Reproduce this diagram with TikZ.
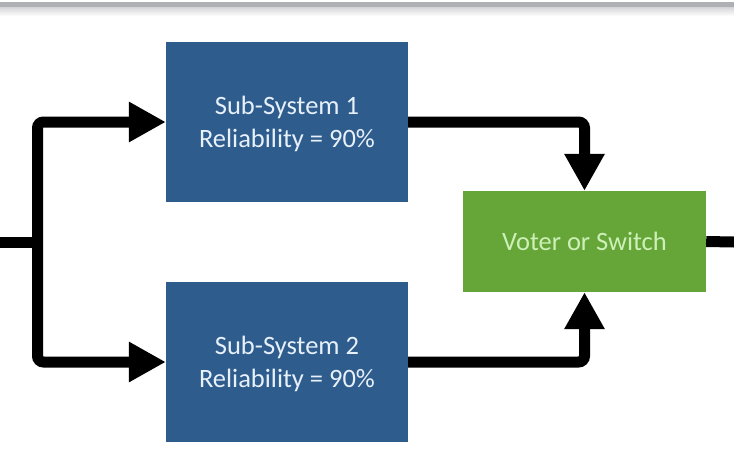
\documentclass[tikz,border=0pt]{standalone}
\usepackage{fontspec}
\setmainfont{Carlito}
\usetikzlibrary{arrows.meta}
\definecolor{boxblue}{RGB}{46,93,141}
\definecolor{boxgreen}{RGB}{102,165,56}
\definecolor{txtblue}{RGB}{232,240,250}
\definecolor{txtgreen}{RGB}{205,240,185}
\definecolor{topgray}{RGB}{175,176,180}
\tikzset{
  subsys/.style={rectangle, fill=boxblue, minimum width=242pt, minimum height=160pt,
    inner sep=0pt},
  subtext/.style={text=txtblue, align=center, inner sep=0pt,
    font=\fontsize{26.5}{33}\selectfont},
  voter/.style={rectangle, fill=boxgreen, minimum width=243pt, minimum height=101pt,
    inner sep=0pt, text=txtgreen, font=\fontsize{26.5}{33}\selectfont},
  wire/.style={line width=11pt, black, rounded corners=6pt},
  arrowwire/.style={wire, -{Triangle[length=37pt,width=38pt]}}
}
\begin{document}
\begin{tikzpicture}[x=1pt,y=-1pt]
\useasboundingbox (0,0) rectangle (734,456);
\fill[white] (0,0) rectangle (734,456);
\shade[top color=topgray!60, bottom color=white] (0,6) rectangle (734,16);
\fill[topgray] (0,1.5) rectangle (734,6.5);
\node[subsys] (s1) at (287,122) {};
\node[subtext] (s1t) at (287,124) {Sub-System 1\\Reliability = 90\%};
\node[subsys] (s2) at (287,362) {};
\node[subtext] (s2t) at (287,364) {Sub-System 2\\Reliability = 90\%};
\node[voter] (v) at (584.5,241.5) {Voter or Switch};
\coordinate (in) at (0,242);
\coordinate (j) at (37.5,242);
\coordinate (out) at (734,242);
\draw[wire] (in) -- (j);
\draw[arrowwire] (j) |- (s1.west);
\draw[arrowwire] (j) |- (s2.west);
\draw[arrowwire] (s1.east) -| (v.north);
\draw[arrowwire] (s2.east) -| (v.south);
\draw[wire] (v.east) -- (out);
\end{tikzpicture}
\end{document}
